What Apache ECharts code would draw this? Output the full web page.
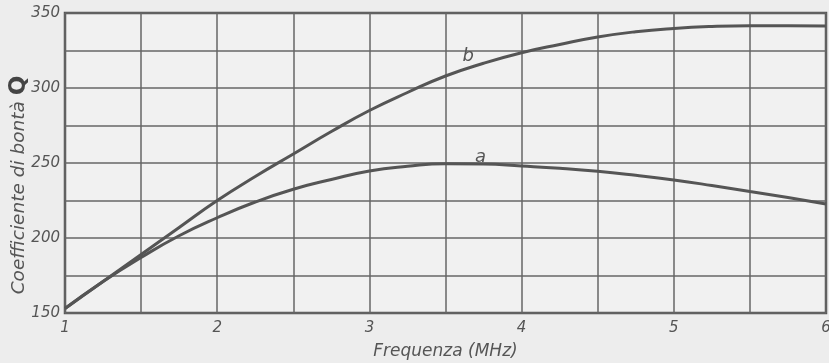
<!DOCTYPE html>
<html>
<head>
<meta charset="utf-8">
<script src="https://cdn.jsdelivr.net/npm/echarts@6/dist/echarts.min.js"></script>
<style>
  html, body { margin: 0; padding: 0; background: #ededed; }
  #chart { width: 829px; height: 363px; }
</style>
</head>
<body>
<div id="chart"></div>
<script>
// Frequency samples (MHz)
const freq = [1, 1.25, 1.5, 1.75, 2, 2.25, 2.5, 2.75, 3, 3.25, 3.5, 3.75, 4, 4.25, 4.5, 4.75, 5, 5.25, 5.5, 5.75, 6];
// Quality factor, curve a
const curveA = [153, 171, 187, 201.5, 213.5, 224, 232.5, 239, 244.7, 247.8, 249.5, 249.3, 248, 246.5, 244.5, 241.8, 238.7, 235, 231, 227, 222.7];
// Quality factor, curve b
const curveB = [153, 171, 189, 207, 225, 241, 256, 271, 285, 297, 308, 316.5, 323.5, 329, 334, 337.5, 339.7, 341, 341.5, 341.5, 341.3];
// Curve tags and where they sit (data units)
const tagNames = ['a', 'b'];
const tagAt = [[3.73, 254], [3.65, 321]];

const ink = '#555';
const fontFam = '"DejaVu Sans", sans-serif';

function pairs(xs, ys) { return xs.map((x, i) => [x, ys[i]]); }

function curve(name, ys, tagIdx) {
  return {
    name: name,
    type: 'line',
    data: pairs(freq, ys),
    smooth: 0.5,
    showSymbol: false,
    lineStyle: { color: ink, width: 3 },
    markPoint: {
      symbol: 'circle', symbolSize: 0,
      label: { show: true, formatter: tagNames[tagIdx], color: ink, fontSize: 18,
               fontFamily: fontFam, fontStyle: 'italic', position: 'inside' },
      data: [{ coord: tagAt[tagIdx] }]
    }
  };
}

const chart = echarts.init(document.getElementById('chart'));
chart.setOption({
  backgroundColor: '#ededed',
  animation: false,
  grid: { left: 65, right: 3, top: 13, bottom: 50, show: true, outerBoundsMode: 'none',
          borderColor: '#555', borderWidth: 2.5, backgroundColor: '#f1f1f1' },
  xAxis: {
    type: 'value', min: 1, max: 6, interval: 0.5,
    name: 'Frequenza (MHz)', nameLocation: 'middle', nameGap: 30, nameMoveOverlap: false,
    nameTextStyle: { color: ink, fontSize: 17, fontStyle: 'italic', fontFamily: fontFam },
    axisLine: { show: false }, axisTick: { show: false },
    splitLine: { show: true, lineStyle: { color: '#666', width: 1.5 } },
    axisLabel: { color: ink, fontSize: 15, fontStyle: 'italic', fontFamily: fontFam, margin: 8,
                 formatter: v => Number.isInteger(v) ? String(v) : '' }
  },
  yAxis: {
    type: 'value', min: 150, max: 350, interval: 25,
    name: 'Coefficiente di bontà {q|Q}', nameLocation: 'middle', nameGap: 34, nameMoveOverlap: false,
    nameTextStyle: { color: ink, fontSize: 18.5, fontStyle: 'italic', fontFamily: fontFam,
                     padding: [0, 44, 0, 0],
                     rich: { q: { fontSize: 23, fontWeight: 'bold', fontStyle: 'normal', color: '#444', fontFamily: fontFam } } },
    axisLine: { show: false }, axisTick: { show: false },
    splitLine: { show: true, lineStyle: { color: '#666', width: 1.5 } },
    axisLabel: { color: ink, fontSize: 15, fontStyle: 'italic', fontFamily: fontFam, margin: 5,
                 formatter: v => v % 50 === 0 ? String(v) : '' }
  },
  series: [curve('a', curveA, 0), curve('b', curveB, 1)]
});
</script>
</body>
</html>
